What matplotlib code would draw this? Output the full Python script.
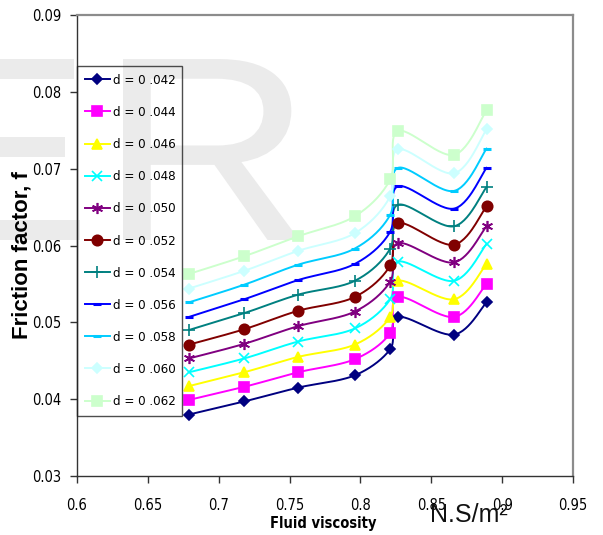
import matplotlib
matplotlib.use("Agg")
import matplotlib.pyplot as plt
import numpy as np
from matplotlib import font_manager as fm
from matplotlib.textpath import TextPath
from matplotlib.patches import PathPatch
from matplotlib.transforms import Affine2D

# fluid viscosity (x) and friction factor for each diameter
visc = [0.679, 0.718, 0.756, 0.796, 0.821, 0.8265, 0.866, 0.889]

d042 = [0.0380, 0.0397, 0.0415, 0.0431, 0.0465, 0.0507, 0.0484, 0.0526]
d044 = [0.0399, 0.0416, 0.0435, 0.0452, 0.0486, 0.0533, 0.0507, 0.0550]
d046 = [0.0417, 0.0435, 0.0455, 0.0471, 0.0507, 0.0554, 0.0530, 0.0576]
d048 = [0.0435, 0.0453, 0.0475, 0.0492, 0.0530, 0.0579, 0.0554, 0.0602]
d050 = [0.0453, 0.0472, 0.0495, 0.0514, 0.0553, 0.0603, 0.0578, 0.0625]
d052 = [0.0471, 0.0491, 0.0515, 0.0533, 0.0574, 0.0629, 0.0601, 0.0651]
d054 = [0.0490, 0.0512, 0.0536, 0.0554, 0.0596, 0.0653, 0.0625, 0.0676]
d056 = [0.0507, 0.0530, 0.0555, 0.0576, 0.0618, 0.0677, 0.0648, 0.0701]
d058 = [0.0526, 0.0549, 0.0575, 0.0596, 0.0640, 0.0701, 0.0671, 0.0726]
d060 = [0.0544, 0.0567, 0.0593, 0.0616, 0.0664, 0.0725, 0.0694, 0.0751]
d062 = [0.0563, 0.0586, 0.0612, 0.0638, 0.0686, 0.0749, 0.0718, 0.0776]

labels = ["d = 0 .042", "d = 0 .044", "d = 0 .046", "d = 0 .048", "d = 0 .050",
          "d = 0 .052", "d = 0 .054", "d = 0 .056", "d = 0 .058", "d = 0 .060",
          "d = 0 .062"]
series = [d042, d044, d046, d048, d050, d052, d054, d056, d058, d060, d062]

xticks = [0.6, 0.65, 0.7, 0.75, 0.8, 0.85, 0.9, 0.95]
xticklabels = ["0.6", "0.65", "0.7", "0.75", "0.8", "0.85", "0.9", "0.95"]
yticks = [0.03, 0.04, 0.05, 0.06, 0.07, 0.08, 0.09]
yticklabels = ["0.03", "0.04", "0.05", "0.06", "0.07", "0.08", "0.09"]

colors = ["#000080", "#FF00FF", "#FFFF00", "#00FFFF", "#800080", "#800000",
          "#008080", "#0000FF", "#00CCFF", "#CCFFFF", "#CCFFCC"]
markers = ["D", "s", "^", "x", (6, 2, 0), "o", "+", "_", "_", "D", "s"]
msizes = [5, 7, 7, 7, 8, 7.5, 8, 6, 6, 5.5, 7]


def narrow_font(bold=False):
    # look for a condensed sans face; fall back to plain Liberation Sans
    for f in fm.fontManager.ttflist:
        name = f.name + " " + str(f.stretch)
        if ("Narrow" in name or "ondensed" in name) and f.style == "normal":
            isbold = f.weight in ("bold", 700) or (isinstance(f.weight, int) and f.weight >= 700)
            if isbold == bold and "Mono" not in f.name and "Serif" not in f.name:
                return {"fname": f.fname}
    return {"family": "Liberation Sans", "weight": "bold" if bold else "normal"}


NAR = narrow_font()
NARB = narrow_font(bold=True)


def fp(spec, size):
    return fm.FontProperties(size=size, **spec)


XMIN, XMAX, YMIN, YMAX = 0.6, 0.95, 0.03, 0.09
AX_W, AX_H = 496.0, 461.0


def smooth(xs, ys, n=30):
    # Excel-style smoothed line (bezier through points), done in pixel space
    px = (np.array(xs) - XMIN) / (XMAX - XMIN) * AX_W
    py = (np.array(ys) - YMIN) / (YMAX - YMIN) * AX_H
    pts = np.column_stack([px, py])
    out = [pts[0]]
    t = np.linspace(0, 1, n)[1:]
    for i in range(len(pts) - 1):
        p0 = pts[max(i - 1, 0)]
        p1 = pts[i]
        p2 = pts[i + 1]
        p3 = pts[min(i + 2, len(pts) - 1)]
        c1 = p1 + (p2 - p0) / 6.0
        c2 = p2 - (p3 - p1) / 6.0
        seg = ((1 - t) ** 3)[:, None] * p1 + (3 * (1 - t) ** 2 * t)[:, None] * c1 \
            + (3 * (1 - t) * t ** 2)[:, None] * c2 + (t ** 3)[:, None] * p2
        out.extend(seg)
    out = np.array(out)
    return out[:, 0] / AX_W * (XMAX - XMIN) + XMIN, out[:, 1] / AX_H * (YMAX - YMIN) + YMIN


fig = plt.figure(figsize=(6.03, 5.35), dpi=100)
fig.patch.set_facecolor("white")
ax = fig.add_axes([77 / 603, 59 / 535, 496 / 603, 461 / 535])
ax.set_facecolor("none")


def watermark(letter, anchor_x, right=False, sx=1.13):
    # big faint letter, placed in pixel coordinates by its ink box
    path = TextPath((0, 0), letter, size=263, prop=fm.FontProperties(family="Liberation Sans"))
    ext = path.get_extents()
    edge = (ext.x1 if right else ext.x0) * sx
    tr = Affine2D().scale(sx, 1).translate(anchor_x - edge, 535 - 240)
    fig.add_artist(PathPatch(path, transform=tr, facecolor="#EBEBEB",
                             edgecolor="none", zorder=-1))


watermark("E", 80, right=True)
watermark("R", 123)

for ys, lab, c, m, ms in zip(series, labels, colors, markers, msizes):
    sx, sy = smooth(visc, ys)
    ax.plot(sx, sy, color=c, lw=1.4, zorder=2)
    mew = 2.2 if m == "_" else 1.2
    ax.plot(visc, ys, linestyle="none", marker=m, ms=ms, color=c, mec=c, mfc=c,
            mew=mew, zorder=3)
    # legend proxy
    ax.plot([], [], color=c, lw=1.4, marker=m, ms=ms, mec=c, mfc=c, mew=mew, label=lab)

ax.set_xlim(XMIN, XMAX)
ax.set_ylim(YMIN, YMAX)
ax.set_xticks(xticks)
ax.set_xticklabels(xticklabels, fontproperties=fp(NAR, 10.5))
ax.set_yticks(yticks)
ax.set_yticklabels(yticklabels, fontproperties=fp(NAR, 10.5))
ax.tick_params(axis="both", direction="out", length=5, width=1, color="#333333")
ax.tick_params(axis="x", pad=11)
ax.tick_params(axis="y", pad=6)

for s in ["left", "bottom"]:
    ax.spines[s].set_color("#333333")
    ax.spines[s].set_linewidth(1.0)
for s in ["top", "right"]:
    ax.spines[s].set_color("#8C8C8C")
    ax.spines[s].set_linewidth(1.6)

ax.set_xlabel("Fluid viscosity", fontproperties=fp(NARB, 10.5))
ax.xaxis.set_label_coords(0.497, -0.087)
ax.set_ylabel("Friction factor, f", family="Liberation Sans", fontweight="bold", fontsize=16)
ax.yaxis.set_label_coords(-0.09, 0.479)

fig.text(430 / 603, 13 / 535, "N.S/m²", family="Liberation Sans", fontsize=18,
         color="#111111", ha="left", va="baseline")

leg_top = (476 - 66) / 461
leg_bot = (476 - 415) / 461
leg = ax.legend(loc="upper left", bbox_to_anchor=(0.0, leg_bot, 105 / 496, leg_top - leg_bot),
                mode="expand", borderaxespad=0, frameon=True, fancybox=False,
                prop=fp(NAR, 9.5), handlelength=1.9,
                handletextpad=0.2, labelspacing=1.45, borderpad=0.6)
leg.get_frame().set_edgecolor("#222222")
leg.get_frame().set_linewidth(1.0)
leg.get_frame().set_facecolor("none")

fig.savefig("out.png", dpi=100)
